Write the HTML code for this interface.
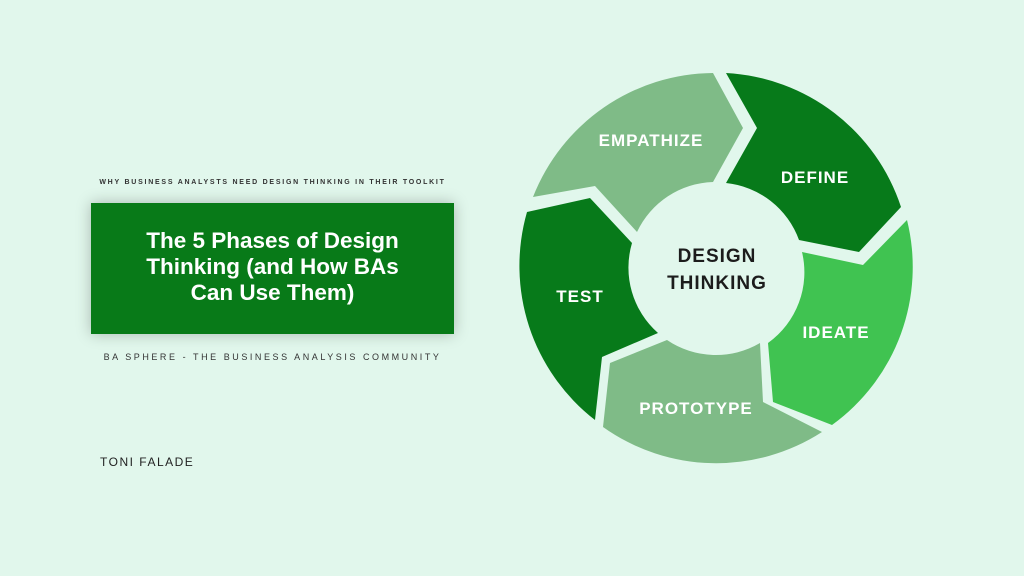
<!DOCTYPE html>
<html><head><meta charset="utf-8"><style>
body{margin:0;width:1024px;height:576px;background:#e1f7ec;position:relative;overflow:hidden;font-family:"Liberation Sans",sans-serif}
.t{position:absolute;white-space:nowrap}
</style></head><body>
<div class="t" style="left:61px;width:423px;top:179px;text-align:center;font-size:7px;letter-spacing:1.75px;color:#333;font-weight:bold">WHY BUSINESS ANALYSTS NEED DESIGN THINKING IN THEIR TOOLKIT</div>
<div style="position:absolute;left:91px;top:203px;width:363px;height:131px;background:#087a18;box-shadow:0 0 14px rgba(0,0,0,0.25)"></div>
<div class="t" style="left:41px;width:463px;top:228px;text-align:center;color:#fff;font-weight:bold;font-size:22.5px;line-height:26px">The 5 Phases of Design<br>Thinking (and How BAs<br>Can Use Them)</div>
<div class="t" style="left:61px;width:423px;top:352px;text-align:center;font-size:9px;letter-spacing:2.55px;color:#333">BA SPHERE - THE BUSINESS ANALYSIS COMMUNITY</div>
<div class="t" style="left:100px;top:455px;font-size:12px;letter-spacing:1.5px;color:#222">TONI FALADE</div>
<svg width="1024" height="576" style="position:absolute;left:0;top:0">
<path d="M533,197 A195,195 0 0 1 713,73 L743,128 L713,182 A87,87 0 0 0 637,232 L595,186 Z" fill="#7fbb87"/>
<path d="M726,73 A195,195 0 0 1 901,207 L859,252 L799,240 A87,87 0 0 0 726,183 L757,128 Z" fill="#077a1a"/>
<path d="M907,220 A195,195 0 0 1 832,425 L773,402 L768,343 A87,87 0 0 0 802,252 L863,265 Z" fill="#40c351"/>
<path d="M822,432 A195,195 0 0 1 603,427 L610,363 L667,340 A87,87 0 0 0 760,343 L763,402 Z" fill="#7fbb87"/>
<path d="M595,420 A195,195 0 0 1 527,212 L590,198 L632,243 A87,87 0 0 0 658,333 L602,357 Z" fill="#077a1a"/>
<g font-family="Liberation Sans, sans-serif" font-weight="bold" font-size="17" fill="#fff" text-anchor="middle" letter-spacing="1">
<text x="651" y="146">EMPATHIZE</text>
<text x="815" y="183">DEFINE</text>
<text x="836" y="338">IDEATE</text>
<text x="696" y="414">PROTOTYPE</text>
<text x="580" y="302">TEST</text>
</g>
<g font-family="Liberation Sans, sans-serif" font-weight="bold" font-size="19" fill="#1c1c1c" text-anchor="middle" letter-spacing="1">
<text x="717" y="262">DESIGN</text>
<text x="717" y="289">THINKING</text>
</g>
</svg>
</body></html>
